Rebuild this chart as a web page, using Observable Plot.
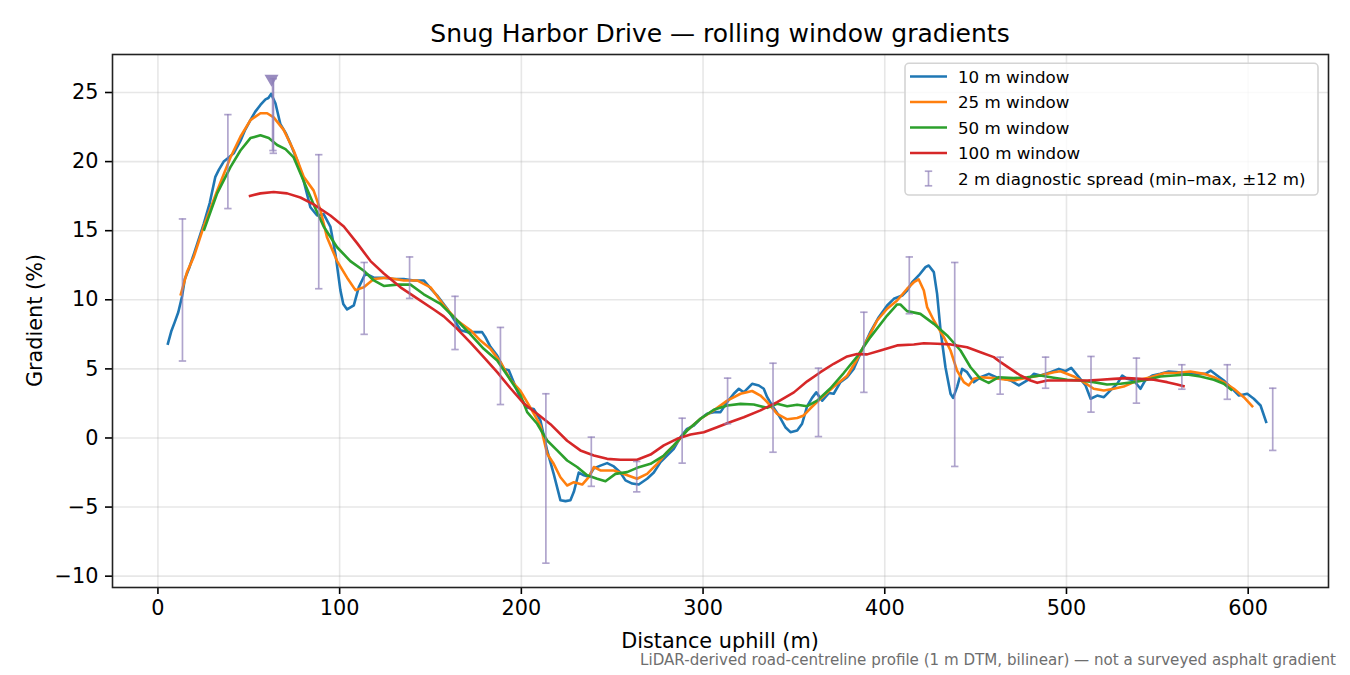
<!DOCTYPE html>
<html>
<head>
<meta charset="utf-8">
<script src="https://cdn.jsdelivr.net/npm/d3@7"></script>
<script src="https://cdn.jsdelivr.net/npm/@observablehq/plot@0.6"></script>
<style>
  html, body { margin: 0; padding: 0; background: #fff; }
  #chart { width: 1350px; height: 675px; }
  svg { font-family: "DejaVu Sans", sans-serif; }
</style>
</head>
<body>
<div id="chart"></div>
<script>
const seriesNames = ["10 m window", "25 m window", "50 m window", "100 m window"];
const seriesColors = ["#1f77b4", "#ff7f0e", "#2ca02c", "#d62728"];
const distTicks = [0, 100, 200, 300, 400, 500, 600];
const gradTicks = [-10, -5, 0, 5, 10, 15, 20, 25];

const w10 = [[5.3,6.74],[7.3,7.7],[9.3,8.4],[11.2,9.1],[13.2,10.2],[14.8,11.5],[17.2,12.3],[20,13.4],[25.2,15.5],[28.5,17.0],[31.6,18.9],[33.5,19.4],[36.2,20.0],[39,20.3],[41.7,20.6],[45.4,21.5],[48,22.3],[50.9,23.0],[53.5,23.6],[56.4,24.1],[59.2,24.5],[60.8,24.6],[62.3,24.9],[64.7,24.2],[67.4,22.7],[70.2,22.1],[72.9,21.3],[76.6,20.1],[80.2,18.6],[83.9,16.7],[87.6,16.1],[91.2,16.2],[94.9,15.3],[97.7,13.3],[100.4,10.7],[102,9.7],[104.1,9.3],[107.8,9.6],[110.5,10.9],[114.2,11.9],[118.8,11.6],[124.3,11.6],[129.8,11.5],[135.3,11.5],[140.8,11.4],[146.3,11.4],[150.9,10.7],[153.7,10.3],[159.2,9.35],[162.8,8.6],[166.5,7.8],[170.2,7.66],[175.7,7.66],[178.4,7.66],[180.2,7.3],[183,6.6],[186.7,5.97],[190.3,5.0],[193.1,4.9],[196.8,3.7],[199.5,2.9],[203.2,2.2],[206.8,2.1],[210.5,1.27],[214.2,-0.9],[217.8,-2.6],[221.5,-4.5],[224.3,-4.57],[227,-4.5],[228.9,-3.9],[231.6,-2.5],[234.4,-2.7],[237.1,-2.8],[239.9,-2.2],[243.5,-2.0],[247.2,-1.82],[250.9,-2.06],[254.5,-2.5],[257.3,-3.07],[261,-3.3],[264.6,-3.37],[269.2,-2.95],[272.9,-2.5],[276.6,-1.75],[280.2,-1.27],[283.9,-0.78],[287.6,0.06],[291.2,0.66],[294.9,0.9],[298.6,1.39],[302.2,1.75],[305.9,1.87],[309.6,1.87],[313.3,2.6],[316.9,3.2],[319.7,3.56],[322.4,3.3],[327,3.92],[330.7,3.8],[333.4,3.56],[335.3,2.95],[338,2.35],[341.7,1.63],[345.3,0.78],[348.1,0.42],[351.8,0.54],[354.5,1.03],[357.3,2.3],[360,2.9],[362.3,3.3],[365.6,2.7],[369.2,3.25],[371.9,3.2],[375.6,4.04],[379.3,4.4],[382.9,5.0],[387.6,6.4],[392.2,7.7],[396.7,8.74],[401.3,9.59],[405,10.07],[409.6,10.31],[412.3,10.67],[415.1,11.27],[418.7,11.76],[422.4,12.36],[424.2,12.48],[427,12.0],[428.8,10.43],[430.7,7.78],[433.4,5.12],[436.2,3.2],[437.6,2.9],[439.8,3.68],[442.6,5.0],[445.3,4.76],[449,4.04],[452.7,4.4],[457.3,4.64],[461.9,4.36],[465,4.3],[469.2,4.16],[473.8,3.8],[478.4,4.16],[482,4.64],[485.7,4.52],[491.2,4.76],[495.8,5.0],[499.5,4.83],[502.6,5.08],[506.8,4.4],[510.5,3.8],[513.3,2.84],[516.9,3.07],[520.6,2.95],[524.2,3.44],[527.9,3.92],[530.7,4.52],[533.4,4.28],[537.1,4.16],[540.7,3.56],[543.5,4.21],[547.2,4.52],[551.7,4.64],[556.3,4.81],[561.8,4.76],[566.4,4.72],[571.9,4.64],[576.5,4.64],[579.3,4.88],[582.9,4.52],[586.6,4.16],[590.3,3.68],[594.9,3.07],[599.5,3.2],[603.1,2.84],[606.8,2.35],[610.1,1.07]];

const w25 = [[12.4,10.3],[16,12.0],[19.7,13.1],[25.2,15.3],[32.6,17.9],[39.9,20.3],[45.4,21.8],[50.9,23.0],[56.4,23.5],[60.1,23.5],[63.7,23.2],[69.2,22.3],[74.7,20.8],[80.2,18.9],[85.7,17.9],[89.4,16.5],[93.1,14.5],[98.6,12.8],[104.1,11.6],[108.7,10.7],[113.3,10.9],[118.8,11.5],[126.1,11.6],[135.3,11.4],[142.6,11.4],[150,10.9],[157.3,9.6],[164.7,8.5],[172,7.8],[177.5,7.05],[183,6.45],[188.5,5.5],[194,4.2],[199.5,3.4],[205,2.2],[210.5,0.9],[214.2,-1.14],[217.8,-1.87],[221.5,-2.84],[225.2,-3.44],[228.9,-3.2],[233.5,-3.37],[237.1,-2.84],[239.9,-2.1],[243.5,-2.35],[250.9,-2.35],[256.4,-2.6],[263.7,-2.95],[269.2,-2.6],[274.7,-1.87],[280.2,-1.03],[285.7,-0.3],[291.2,0.54],[298.6,1.39],[305.9,2.0],[313.3,2.7],[320.6,3.2],[327,3.4],[331.6,3.07],[335.3,2.6],[340.8,1.75],[346.3,1.35],[351.8,1.45],[355.4,1.63],[359.1,2.15],[364.6,2.84],[371.9,3.7],[379.3,4.5],[384.8,5.7],[390.3,7.1],[395.8,8.5],[401.3,9.35],[406.8,9.95],[412.3,10.8],[416,11.27],[418.7,11.47],[421.5,10.67],[423.3,9.47],[427,8.5],[432.5,7.3],[436.2,6.33],[439.8,4.88],[443.5,4.04],[446.2,3.8],[449,4.28],[452.7,4.4],[460,4.33],[463.7,4.28],[471,4.16],[478.4,4.36],[485.7,4.52],[493,4.76],[496.7,4.83],[504,4.45],[509.5,4.04],[515,3.56],[520.6,3.44],[526,3.56],[531.5,3.72],[538.9,4.16],[546.2,4.4],[553.6,4.69],[560.9,4.72],[568.2,4.81],[575.6,4.64],[581.1,4.4],[586.6,4.04],[592.1,3.56],[597.6,2.95],[602.7,2.23]];

const w50 = [[25.2,15.0],[32.6,17.7],[39.9,19.6],[45.4,20.8],[50.9,21.7],[56.4,21.9],[61,21.7],[65.6,21.2],[70.2,20.9],[74.7,20.3],[80.2,18.6],[85.7,16.9],[91.2,15.3],[98.6,13.8],[105.9,12.8],[113.3,12.1],[118.8,11.4],[124.3,11.0],[131.6,11.1],[139,11.1],[146.3,10.4],[155.5,9.7],[164.7,8.5],[172,7.5],[179.3,6.45],[186.7,5.6],[194,4.2],[199.5,3.1],[203.2,1.87],[208.7,1.03],[214.2,-0.18],[219.7,-0.9],[225.2,-1.63],[230.7,-2.1],[236.2,-2.7],[241.7,-2.95],[246.3,-3.13],[251.8,-2.6],[258.2,-2.47],[263.7,-2.16],[271.1,-1.87],[278.4,-1.27],[283.9,-0.54],[291.2,0.54],[298.6,1.39],[305.9,2.04],[313.3,2.35],[320.6,2.47],[327.9,2.42],[335.3,2.18],[340.8,2.47],[346.3,2.3],[351.8,2.4],[357.3,2.3],[362.8,2.7],[370.1,3.6],[377.4,4.7],[384.8,5.9],[392.1,7.3],[401.3,8.86],[406.8,9.66],[408.6,9.66],[412.3,9.18],[419.6,8.98],[427,8.26],[434.3,7.42],[441.7,6.33],[447.2,5.12],[452.7,4.28],[457.2,3.99],[462.7,4.4],[471,4.33],[478.4,4.4],[485.7,4.52],[493,4.36],[500.4,4.21],[507.7,4.16],[515,4.04],[522.3,3.87],[529.7,3.92],[537,4.04],[544.4,4.21],[551.7,4.45],[559.1,4.52],[566.4,4.6],[573.7,4.45],[581.1,4.21],[586.6,3.92],[591.2,3.44]];

const w100 = [[50,17.5],[56.4,17.7],[63.7,17.8],[71.1,17.7],[78.4,17.4],[85.7,16.9],[94.9,16.1],[102.3,15.3],[109.6,14.1],[117,12.8],[124.3,11.9],[133.5,10.9],[142.6,10.1],[151.8,9.3],[157.3,8.8],[164.7,7.9],[172,6.9],[179.3,5.85],[186.7,4.76],[194,3.6],[201.3,2.5],[208.7,1.75],[216,1.0],[225.2,-0.2],[232.5,-0.9],[239.9,-1.27],[247.2,-1.51],[254.5,-1.58],[263.7,-1.58],[271.1,-1.2],[278.4,-0.54],[285.7,-0.06],[293.1,0.25],[300.4,0.42],[307.7,0.78],[315.1,1.15],[322.4,1.5],[331.6,2.0],[340.8,2.6],[350,3.3],[357.3,4.1],[364.6,4.76],[371.9,5.37],[379.3,5.9],[384.8,6.07],[390.3,6.05],[397.6,6.33],[406.8,6.7],[416,6.77],[421.5,6.86],[428.8,6.82],[436.2,6.77],[445.3,6.57],[452.7,6.21],[460,5.85],[463.7,5.49],[469.2,5.0],[474.7,4.52],[480.2,4.16],[483.9,3.99],[489.4,4.16],[496.7,4.16],[504,4.16],[511.4,4.16],[518.7,4.21],[526,4.28],[533.4,4.33],[540.7,4.28],[548.1,4.21],[555.4,4.04],[560.9,3.87],[565.1,3.72]];

// 2 m diagnostic spread: distance, min, max
const spreadX  = [13.5, 38.5, 63.5, 88.5, 113.5, 138.5, 163.5, 188.5, 213.5, 238.5, 263.5, 288.5, 313.5, 338.5, 363.5, 388.5, 413.5, 438.5, 463.5, 488.5, 513.5, 538.5, 563.5, 588.5, 613.5];
const spreadLo = [5.57, 16.6, 20.6, 10.8, 7.5, 10.1, 6.4, 2.42, -9.06, -3.5, -3.9, -1.82, 1.03, -1.03, 0.1, 3.3, 8.99, -2.06, 3.17, 3.6, 1.87, 2.52, 3.53, 2.8, -0.9];
const spreadHi = [15.85, 23.4, 26.0, 20.5, 12.7, 13.1, 10.25, 8.0, 3.2, 0.06, -1.7, 1.43, 4.33, 5.41, 5.05, 9.1, 13.1, 12.7, 5.85, 5.85, 5.9, 5.78, 5.3, 5.3, 3.6];
const peakMarker = [{x: 62.5, y: 26.0}];
const heavySpread = [{x: 63.3, lo: 20.8, hi: 26.0}];

const title = "Snug Harbor Drive — rolling window gradients";
const xLabel = "Distance uphill (m)";
const yLabel = "Gradient (%)";
const caption = "LiDAR-derived road-centreline profile (1 m DTM, bilinear) — not a surveyed asphalt gradient";
const spreadLabel = "2 m diagnostic spread (min–max, ±12 m)";

const allSeries = [w10, w25, w50, w100];
const rows = allSeries.flatMap((arr, i) => arr.map(([x, y]) => ({x, y, s: seriesNames[i]})));
const spread = spreadX.map((x, i) => ({x, lo: spreadLo[i], hi: spreadHi[i]}));

const barColor = "#8e7fb8";
const capSymbol = {
  draw(ctx, size) {
    const r = Math.sqrt(size / Math.PI);
    ctx.moveTo(-r, 0);
    ctx.lineTo(r, 0);
  }
};

const chart = Plot.plot({
  width: 1350,
  height: 675,
  marginLeft: 112,
  marginRight: 22,
  marginTop: 54,
  marginBottom: 88,
  style: {fontFamily: "DejaVu Sans, sans-serif", fontSize: "20.8px", color: "#000", background: "#fff"},
  x: {domain: [-25.0, 644.2], ticks: distTicks},
  y: {domain: [-10.82, 27.75], ticks: gradTicks},
  color: {domain: seriesNames, range: seriesColors},
  marks: [
    Plot.gridX(distTicks, {stroke: "#b0b0b0", strokeOpacity: 0.3, strokeWidth: 1.6}),
    Plot.gridY(gradTicks, {stroke: "#b0b0b0", strokeOpacity: 0.3, strokeWidth: 1.6}),
    Plot.axisX(distTicks, {tickSize: 7, tickPadding: 6, strokeWidth: 1.6, fontSize: 20.8, label: null}),
    Plot.axisY(gradTicks, {tickSize: 7, tickPadding: 7, strokeWidth: 1.6, fontSize: 20.8, label: null}),
    Plot.line(rows, {x: "x", y: "y", z: "s", stroke: "s", strokeWidth: 2.6, strokeLinejoin: "round", strokeLinecap: "butt"}),
    Plot.ruleX(spread, {x: "x", y1: "lo", y2: "hi", stroke: barColor, strokeOpacity: 0.7, strokeWidth: 1.7}),
    Plot.dot(spread, {x: "x", y: "lo", symbol: capSymbol, r: 3.7, stroke: barColor, strokeOpacity: 0.7, strokeWidth: 1.7, fill: "none"}),
    Plot.dot(spread, {x: "x", y: "hi", symbol: capSymbol, r: 3.7, stroke: barColor, strokeOpacity: 0.7, strokeWidth: 1.7, fill: "none"}),
    Plot.ruleX(heavySpread, {x: "x", y1: "lo", y2: "hi", stroke: barColor, strokeOpacity: 0.7, strokeWidth: 2.5}),
    Plot.dot(heavySpread, {x: "x", y: "lo", symbol: capSymbol, r: 3.7, stroke: barColor, strokeOpacity: 0.7, strokeWidth: 1.7, fill: "none"}),
    Plot.dot(peakMarker, {x: "x", y: "y", symbol: "triangle", rotate: 180, r: 5.2, fill: barColor, fillOpacity: 0.9, stroke: "none"}),
    Plot.frame({stroke: "#222", strokeWidth: 1.6})
  ]
});

document.getElementById("chart").appendChild(chart);

// Titles, labels, legend and caption as text
const svg = d3.select(chart);
const F = "DejaVu Sans, sans-serif";
svg.append("text").attr("x", 720).attr("y", 42.3).attr("text-anchor", "middle")
  .attr("font-family", F).attr("font-size", 25).attr("fill", "#000").text(title);
svg.append("text").attr("x", 720).attr("y", 648).attr("text-anchor", "middle")
  .attr("font-family", F).attr("font-size", 20.8).attr("fill", "#000").text(xLabel);
svg.append("text").attr("transform", "translate(42,320.5) rotate(-90)").attr("text-anchor", "middle")
  .attr("font-family", F).attr("font-size", 20.8).attr("fill", "#000").text(yLabel);
svg.append("text").attr("x", 1336).attr("y", 665).attr("text-anchor", "end")
  .attr("font-family", F).attr("font-size", 15.1).attr("fill", "#6e6e6e").text(caption);

const lg = svg.append("g");
lg.append("rect").attr("x", 905).attr("y", 63.3).attr("width", 413).attr("height", 131.7).attr("rx", 4)
  .attr("fill", "#fff").attr("fill-opacity", 0.8).attr("stroke", "#d4d4d4").attr("stroke-width", 1.6);
const rowY = [76.5, 102, 127.5, 153, 178.5];
seriesNames.forEach((name, i) => {
  lg.append("line").attr("x1", 910).attr("x2", 947).attr("y1", rowY[i]).attr("y2", rowY[i])
    .attr("stroke", seriesColors[i]).attr("stroke-width", 2.6);
  lg.append("text").attr("x", 958).attr("y", rowY[i] + 6).attr("text-anchor", "start").attr("font-family", F).attr("font-size", 16.7)
    .attr("fill", "#000").text(name);
});
const ey = rowY[4];
lg.append("line").attr("x1", 928.5).attr("x2", 928.5).attr("y1", ey - 7.3).attr("y2", ey + 7.3)
  .attr("stroke", barColor).attr("stroke-opacity", 0.7).attr("stroke-width", 1.7);
[ey - 7.3, ey + 7.3].forEach(yy => lg.append("line").attr("x1", 924.8).attr("x2", 932.2).attr("y1", yy).attr("y2", yy)
  .attr("stroke", barColor).attr("stroke-opacity", 0.7).attr("stroke-width", 1.7));
lg.append("text").attr("x", 958).attr("y", ey + 6).attr("text-anchor", "start").attr("font-family", F).attr("font-size", 16.7)
  .attr("fill", "#000").text(spreadLabel);
</script>
</body>
</html>
